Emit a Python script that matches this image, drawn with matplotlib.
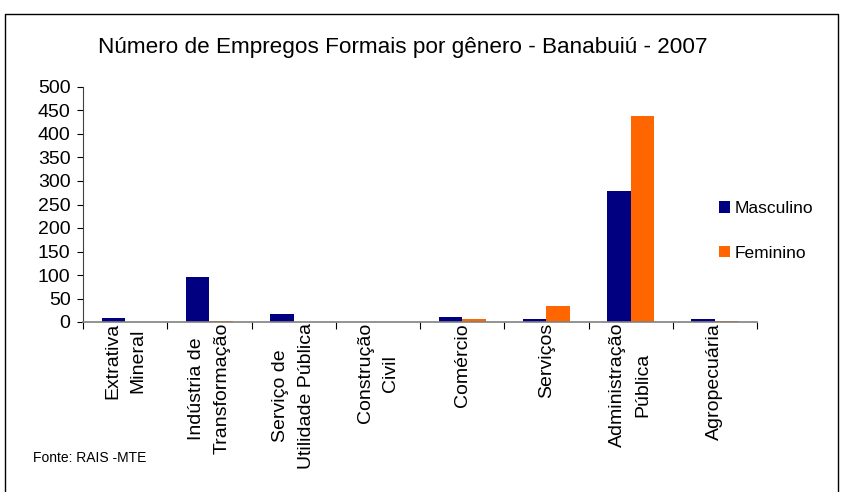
import matplotlib
matplotlib.use("Agg")
import matplotlib.pyplot as plt
import numpy as np
from matplotlib.patches import Patch
from matplotlib.lines import Line2D

plt.rcParams['font.family'] = ['Liberation Sans', 'DejaVu Sans']

categories = ["Extrativa\nMineral", "Indústria de\nTransformação", "Serviço de\nUtilidade Pública",
              "Construção\nCivil", "Comércio", "Serviços", "Administração\nPública", "Agropecuária"]
masculino = [8, 95, 18, 0, 10, 7, 278, 7]
feminino = [0, 3, 0, 0, 7, 35, 438, 2]
series_names = ["Masculino", "Feminino"]
colors = ["#000080", "#FF6600"]
title = "Número de Empregos Formais por gênero - Banabuiú - 2007"
source = "Fonte: RAIS -MTE"

W, H = 841, 492
fig = plt.figure(figsize=(W / 100, H / 100), dpi=100)
ax = fig.add_axes([83 / W, 1 - 322 / H, (757 - 83) / W, (322 - 87) / H])

x = np.arange(len(categories))
bw = 0.28
ax.bar(x - bw / 2, masculino, width=bw, color=colors[0], label=series_names[0])
ax.bar(x + bw / 2, feminino, width=bw, color=colors[1], label=series_names[1])

ax.set_xlim(-0.5, len(categories) - 0.5)
ax.set_ylim(0, 500)
ax.set_yticks(np.arange(0, 501, 50))
ax.tick_params(axis='y', labelsize=14, length=4, width=0.8, pad=5, colors='black')
ax.set_xticks(np.arange(-0.5, len(categories)), minor=False)
ax.set_xticklabels([])
ax.tick_params(axis='x', length=5, width=0.8, color='black')
for i, lab in enumerate(categories):
    ax.text(i, -2, lab, rotation=90, ha='center', va='top', multialignment='center',
            fontsize=14, linespacing=1.65, transform=ax.transData, clip_on=False)

for s in ['top', 'right']:
    ax.spines[s].set_visible(False)
ax.spines['left'].set_color('#404040')
ax.spines['bottom'].set_color('#808080')
ax.spines['left'].set_linewidth(0.8)
ax.spines['bottom'].set_linewidth(1.2)

fig.text(403 / W, 1 - 48 / H, title, ha='center', va='center', fontsize=16.2)

handles = [Patch(facecolor=colors[0]), Patch(facecolor=colors[1])]
fig.legend(handles, series_names, loc='center left', bbox_to_anchor=(719 / W, 1 - 231 / H),
           frameon=False, fontsize=12.5, handlelength=0.65, handleheight=0.65,
           handletextpad=0.25, labelspacing=1.7, borderpad=0, borderaxespad=0)

fig.text(33 / W, 1 - 458 / H, source, ha='left', va='center', fontsize=10)

# outer frame (top, left, right)
fig.add_artist(Line2D([5 / W, 5 / W, 838 / W, 838 / W], [0, 1 - 14 / H, 1 - 14 / H, 0],
                      transform=fig.transFigure, color='black', linewidth=1))

fig.savefig("out.png", dpi=100)
